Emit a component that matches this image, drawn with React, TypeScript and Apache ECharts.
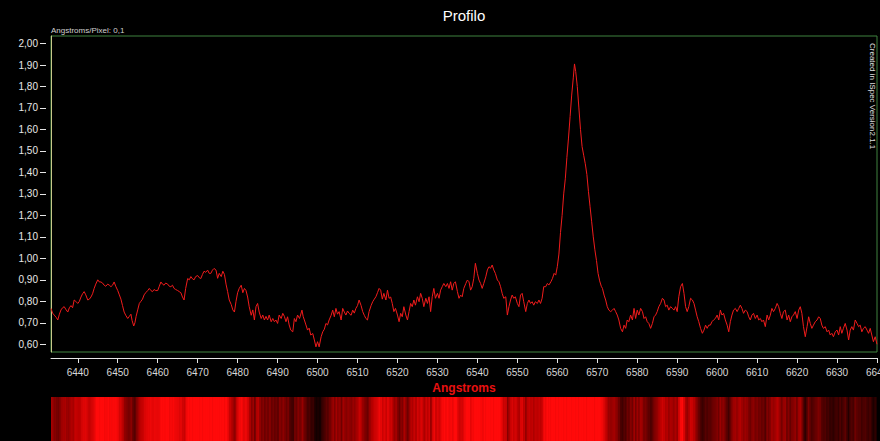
import React, { useEffect, useRef } from "react";
import * as echarts from "echarts";

// ---- Data ----
const X_MIN = 6433.3;
const X_MAX = 6640;
const Y_MIN = 0.564;
const Y_MAX = 2.035;
const X_TICKS = [6440, 6450, 6460, 6470, 6480, 6490, 6500, 6510, 6520, 6530, 6540, 6550, 6560, 6570, 6580, 6590, 6600, 6610, 6620, 6630, 6640];
const Y_TICKS = [0.6, 0.7, 0.8, 0.9, 1.0, 1.1, 1.2, 1.3, 1.4, 1.5, 1.6, 1.7, 1.8, 1.9, 2.0];

const SEG_A: [number, number][] = [
  [6433.3,0.767],[6433.7,0.745],[6434.1,0.736],[6434.6,0.725],[6435.0,0.713],[6435.4,0.74],[6435.8,0.76],[6436.2,0.77],[6436.6,0.775],[6437.1,0.76],[6437.5,0.75],[6437.9,0.77],[6438.3,0.78],[6438.7,0.77],[6439.1,0.806],[6439.5,0.80],[6440.0,0.79],[6440.4,0.80],[6440.8,0.82],[6441.2,0.835],[6441.6,0.845],[6442.0,0.83],[6442.5,0.806],[6442.9,0.81],[6443.3,0.82],[6443.7,0.835],[6444.1,0.86],[6444.5,0.88],[6445.0,0.90],[6445.4,0.89],[6445.8,0.89],[6446.2,0.885],[6446.6,0.875],[6447.0,0.87],[6447.5,0.88],[6447.9,0.875],[6448.3,0.868],[6448.7,0.875],[6449.1,0.89],[6449.5,0.87],[6450.0,0.85],[6450.4,0.83],[6450.8,0.81],[6451.2,0.78],[6451.6,0.75],[6452.0,0.735],[6452.5,0.72],[6452.9,0.73],[6453.3,0.74],[6453.6,0.71],[6454.0,0.685],[6454.3,0.70],[6454.6,0.73],[6455.0,0.76],[6455.4,0.79],[6455.8,0.80],[6456.2,0.81],[6456.6,0.83],[6457.0,0.84],[6457.5,0.85],[6457.9,0.86],[6458.3,0.85],[6458.7,0.845],[6459.1,0.855],[6459.5,0.85],[6460.0,0.85],[6460.4,0.87],[6460.8,0.89],[6461.2,0.88],[6461.6,0.875],[6462.0,0.885],[6462.5,0.88],[6462.9,0.87],[6463.3,0.868],[6463.7,0.875],[6464.1,0.86],[6464.5,0.855],[6465.0,0.85],[6465.4,0.845],[6465.8,0.84],[6466.2,0.82],[6466.6,0.806],[6467.0,0.86],[6467.5,0.906],[6467.9,0.90],[6468.3,0.915],[6468.7,0.905],[6469.1,0.90],[6469.5,0.915],[6470.0,0.92],[6470.4,0.91],[6470.8,0.906],[6471.2,0.925],[6471.6,0.94],[6472.0,0.935],[6472.5,0.945],[6472.9,0.93],[6473.3,0.93],[6473.7,0.945],[6474.1,0.953],
];

const SEG_B: [number, number][] = [
  [6474.6,0.945],[6475.0,0.907],[6475.4,0.93],[6475.9,0.915],[6476.3,0.94],[6476.7,0.925],[6477.1,0.88],[6477.5,0.845],[6477.9,0.806],[6478.4,0.785],[6478.8,0.76],[6479.2,0.75],[6479.6,0.80],[6480.0,0.84],[6480.4,0.86],[6480.9,0.875],[6481.3,0.84],[6481.7,0.86],[6482.1,0.85],[6482.5,0.82],[6482.9,0.775],[6483.4,0.735],[6483.8,0.76],[6484.2,0.713],[6484.6,0.775],[6485.0,0.79],[6485.4,0.75],[6485.9,0.72],[6486.3,0.736],[6486.7,0.713],[6487.1,0.73],[6487.5,0.713],[6487.9,0.736],[6488.4,0.705],[6488.8,0.72],[6489.2,0.705],[6489.6,0.713],[6490.0,0.697],[6490.4,0.736],[6490.9,0.72],[6491.3,0.744],[6491.7,0.73],[6492.1,0.705],[6492.5,0.728],[6492.9,0.69],[6493.3,0.666],[6493.8,0.658],[6494.2,0.72],[6494.6,0.705],[6495.0,0.736],[6495.5,0.72],[6496.1,0.759],[6496.4,0.73],[6496.7,0.713],[6497.1,0.69],[6497.5,0.666],[6497.9,0.675],[6498.3,0.643],[6498.8,0.65],[6499.2,0.62],[6499.6,0.588],[6500.0,0.612],[6500.4,0.588],[6500.9,0.635],[6501.3,0.658],[6501.7,0.67],[6502.1,0.697],[6502.5,0.69],[6502.9,0.713],[6503.4,0.735],[6503.8,0.759],[6504.2,0.728],[6504.6,0.767],[6505.0,0.74],[6505.4,0.752],[6505.9,0.713],[6506.3,0.767],[6506.7,0.75],[6507.1,0.736],[6507.5,0.755],[6507.9,0.744],[6508.4,0.735],[6508.8,0.759],[6509.2,0.745],[6509.6,0.767],[6510.0,0.78],[6510.4,0.806],[6510.9,0.78],[6511.3,0.752],[6511.7,0.735],[6512.1,0.72],[6512.5,0.713],[6512.9,0.752],[6513.4,0.78],[6513.8,0.798],[6514.2,0.81],[6514.6,0.821],[6515.0,0.84],[6515.4,0.86],
];

const SEG_C: [number, number][] = [
  [6515.8,0.852],[6516.2,0.81],[6516.6,0.837],[6517.1,0.806],[6517.5,0.852],[6517.9,0.814],[6518.3,0.82],[6518.7,0.79],[6519.1,0.752],[6519.5,0.767],[6520.0,0.736],[6520.4,0.705],[6520.8,0.744],[6521.2,0.728],[6521.6,0.775],[6522.1,0.736],[6522.5,0.713],[6522.9,0.752],[6523.3,0.79],[6523.7,0.775],[6524.1,0.806],[6524.5,0.782],[6525.0,0.821],[6525.4,0.798],[6525.8,0.837],[6526.2,0.814],[6526.6,0.775],[6527.1,0.814],[6527.5,0.79],[6527.9,0.821],[6528.3,0.752],[6528.7,0.821],[6529.1,0.86],[6529.5,0.814],[6530.0,0.837],[6530.4,0.814],[6530.8,0.852],[6531.2,0.868],[6531.6,0.883],[6532.1,0.868],[6532.5,0.883],[6532.9,0.86],[6533.3,0.891],[6533.7,0.852],[6534.1,0.883],[6534.5,0.891],[6535.0,0.845],[6535.4,0.814],[6535.8,0.829],[6536.2,0.821],[6536.6,0.86],[6537.1,0.883],[6537.5,0.899],[6537.9,0.891],[6538.3,0.852],[6538.7,0.868],[6539.1,0.907],[6539.5,0.977],[6540.0,0.93],[6540.4,0.899],[6540.8,0.883],[6541.2,0.86],[6541.6,0.883],[6542.1,0.914],[6542.5,0.946],[6542.9,0.961],[6543.3,0.954],[6543.7,0.969],[6544.1,0.946],[6544.5,0.93],[6545.0,0.899],[6545.4,0.891],[6545.8,0.868],[6546.2,0.837],[6546.6,0.814],[6547.1,0.821],[6547.5,0.736],[6547.9,0.775],[6548.3,0.806],[6548.7,0.829],[6549.1,0.814],[6549.5,0.821],[6550.0,0.79],[6550.4,0.775],[6550.8,0.829],[6551.2,0.837],[6551.6,0.798],[6552.1,0.752],[6552.5,0.79],[6552.9,0.806],[6553.3,0.79],[6553.7,0.798],[6554.1,0.782],[6554.5,0.798],[6555.0,0.79],[6555.4,0.806],[6555.8,0.79],[6556.2,0.814],[6556.6,0.868],
];

const SEG_D: [number, number][] = [
  [6557.1,0.868],[6557.5,0.883],[6557.9,0.876],[6558.4,0.891],[6558.8,0.907],[6559.2,0.93],[6559.6,0.922],[6560.0,0.961],[6560.4,1.02],[6560.8,1.12],[6561.2,1.20],[6561.6,1.30],[6562.0,1.37],[6562.4,1.47],[6562.8,1.56],[6563.2,1.66],[6563.6,1.76],[6564.0,1.84],[6564.3,1.905],[6564.6,1.87],[6565.0,1.80],[6565.4,1.70],[6565.8,1.60],[6566.2,1.52],[6566.6,1.48],[6567.0,1.44],[6567.4,1.39],[6567.8,1.31],[6568.2,1.24],[6568.6,1.17],[6569.0,1.10],[6569.4,1.04],[6569.8,0.99],[6570.2,0.93],[6570.6,0.895],[6571.0,0.87],[6571.3,0.86],[6571.7,0.829],[6572.1,0.806],[6572.5,0.775],[6572.9,0.759],[6573.35,0.752],[6573.8,0.759],[6574.2,0.767],[6574.6,0.752],[6575.0,0.736],[6575.4,0.713],[6575.85,0.674],[6576.3,0.658],[6576.7,0.689],[6577.1,0.674],[6577.5,0.713],[6577.9,0.705],[6578.35,0.736],[6578.8,0.713],[6579.2,0.767],[6579.6,0.72],[6580.0,0.759],[6580.4,0.736],[6580.85,0.767],[6581.3,0.752],[6581.7,0.72],[6582.1,0.728],[6582.5,0.705],[6582.9,0.697],[6583.35,0.674],[6583.8,0.697],[6584.2,0.728],[6584.6,0.736],[6585.0,0.752],[6585.4,0.775],[6585.85,0.79],[6586.3,0.814],[6586.7,0.806],[6587.1,0.775],[6587.5,0.782],[6587.9,0.759],[6588.35,0.775],[6588.8,0.767],[6589.2,0.759],[6589.6,0.775],[6590.0,0.752],[6590.4,0.821],[6590.85,0.868],[6591.3,0.883],[6591.7,0.837],[6592.1,0.775],[6592.5,0.752],[6592.9,0.775],[6593.35,0.814],[6593.8,0.806],[6594.2,0.79],[6594.6,0.759],[6595.0,0.728],[6595.4,0.705],[6595.85,0.674],[6596.3,0.651],[6596.7,0.666],[6597.1,0.689],[6597.5,0.674],[6597.9,0.689],
];

const SEG_E: [number, number][] = [
  [6598.3,0.689],[6598.7,0.705],[6599.1,0.713],[6599.55,0.72],[6600.0,0.736],[6600.4,0.713],[6600.8,0.759],[6601.2,0.736],[6601.6,0.744],[6602.05,0.713],[6602.5,0.689],[6602.9,0.658],[6603.3,0.705],[6603.7,0.736],[6604.1,0.759],[6604.55,0.767],[6605.0,0.752],[6605.4,0.767],[6605.8,0.782],[6606.2,0.767],[6606.6,0.744],[6607.05,0.759],[6607.5,0.752],[6607.9,0.728],[6608.3,0.713],[6608.7,0.736],[6609.1,0.744],[6609.55,0.72],[6610.0,0.736],[6610.4,0.713],[6610.8,0.72],[6611.2,0.705],[6611.6,0.713],[6612.05,0.682],[6612.5,0.736],[6612.9,0.713],[6613.3,0.736],[6613.7,0.767],[6614.1,0.752],[6614.55,0.767],[6615.0,0.79],[6615.4,0.775],[6615.8,0.744],[6616.2,0.72],[6616.6,0.752],[6617.05,0.759],[6617.5,0.713],[6617.9,0.736],[6618.3,0.705],[6618.7,0.728],[6619.1,0.736],[6619.55,0.752],[6620.0,0.72],[6620.4,0.759],[6620.8,0.775],[6621.2,0.744],[6621.6,0.682],[6622.05,0.635],[6622.5,0.682],[6622.9,0.728],[6623.3,0.697],[6623.7,0.674],[6624.1,0.689],[6624.55,0.705],[6625.0,0.713],[6625.4,0.728],[6625.8,0.72],[6626.2,0.689],[6626.6,0.674],[6627.05,0.682],[6627.5,0.658],[6627.9,0.666],[6628.3,0.643],[6628.7,0.651],[6629.1,0.635],[6629.55,0.658],[6630.0,0.666],[6630.4,0.643],[6630.8,0.682],[6631.2,0.651],[6631.6,0.674],[6632.05,0.697],[6632.5,0.666],[6632.9,0.62],[6633.3,0.666],[6633.7,0.682],[6634.1,0.666],[6634.55,0.713],[6635.0,0.697],[6635.4,0.682],[6635.8,0.689],[6636.2,0.658],[6636.6,0.674],[6637.05,0.682],[6637.5,0.666],[6637.9,0.651],[6638.3,0.674],[6638.7,0.643],[6639.1,0.612],[6639.55,0.635],[6640.0,0.60],
];

const PROFILE: [number, number][] = [...SEG_A, ...SEG_B, ...SEG_C, ...SEG_D, ...SEG_E];

const FONT = '"Liberation Sans", Arial, sans-serif';

export default function App() {
  const ref = useRef<HTMLDivElement>(null);

  useEffect(() => {
    document.body.style.margin = "0";
    document.body.style.background = "#000";
    const chart = echarts.init(ref.current!, null, { renderer: "svg" });

    const stripData = PROFILE.slice(0, -1).map((p, i) => [p[0], PROFILE[i + 1][0], p[1]]);

    const option: any = {
      animation: false,
      backgroundColor: "#000",
      textStyle: { fontFamily: FONT },
      grid: [
        { left: 51, right: 3, top: 36, bottom: 89, show: true, borderColor: "#3f823f", borderWidth: 1, backgroundColor: "#000", outerBoundsMode: "none", containLabel: false },
        { left: 51, right: 4, top: 397, bottom: 0, outerBoundsMode: "none", containLabel: false },
      ],
      xAxis: [
        {
          type: "value", gridIndex: 0, min: X_MIN, max: X_MAX, position: "bottom", offset: 6,
          axisLine: { show: true, onZero: false, lineStyle: { color: "#e6e6e6", width: 1 } },
          axisTick: { show: true, length: 5, lineStyle: { color: "#e6e6e6" }, customValues: X_TICKS },
          axisLabel: { color: "#d8d8d8", fontSize: 10, margin: 9, customValues: X_TICKS, formatter: (v: number) => String(v), hideOverlap: false },
          splitLine: { show: false },
          name: "Angstroms", nameLocation: "middle", nameGap: 24,
          nameTextStyle: { color: "#e81010", fontWeight: "bold", fontSize: 12, fontFamily: FONT },
        },
        { type: "value", gridIndex: 1, min: X_MIN, max: X_MAX, show: false },
      ],
      yAxis: [
        {
          type: "value", gridIndex: 0, min: Y_MIN, max: Y_MAX, position: "left", offset: 5,
          axisLine: { show: false },
          axisTick: { show: true, length: 6, lineStyle: { color: "#e6e6e6" }, customValues: Y_TICKS },
          axisLabel: { color: "#e8e8e8", fontSize: 10, margin: 8, customValues: Y_TICKS, formatter: (v: number) => v.toFixed(2).replace(".", ",") },
          splitLine: { show: false },
        },
        {
          type: "value", gridIndex: 0, min: Y_MIN, max: Y_MAX, position: "left", offset: 0,
          axisLine: { show: true, lineStyle: { color: "#c8c88a", width: 1 } },
          axisTick: { show: false }, axisLabel: { show: false }, splitLine: { show: false },
        },
        { type: "value", gridIndex: 1, min: 0, max: 1, show: false },
      ],
      visualMap: {
        type: "continuous", show: false, seriesIndex: 1, dimension: 2, min: 0.6, max: 0.88,
        inRange: { color: ["#120000", "#5a0000", "#b80000", "#ff0a0a"] },
      },
      series: [
        {
          type: "line", xAxisIndex: 0, yAxisIndex: 0, data: PROFILE, symbol: "none", showSymbol: false,
          lineStyle: { color: "#f01c1c", width: 1 }, silent: true,
        },
        {
          type: "custom", xAxisIndex: 1, yAxisIndex: 2, data: stripData, encode: { x: [0, 1], y: 2 }, silent: true,
          renderItem: (params: any, api: any) => {
            const x0 = api.coord([api.value(0), 0])[0];
            const x1 = api.coord([api.value(1), 0])[0];
            const cs = params.coordSys;
            return {
              type: "rect",
              shape: { x: x0, y: cs.y, width: x1 - x0 + 0.6, height: cs.height },
              style: { fill: api.visual("color") },
            };
          },
        },
      ],
      graphic: [
        { type: "text", x: 464, y: 15, style: { text: "Profilo", fill: "#ffffff", font: `15px ${FONT}`, align: "center", verticalAlign: "middle", textAlign: "center", textVerticalAlign: "middle" } },
        { type: "text", x: 51, y: 30, style: { text: "Angstroms/Pixel: 0,1", fill: "#d0d0d0", font: `8px ${FONT}`, verticalAlign: "middle", textVerticalAlign: "middle" } },
        { type: "text", x: 872, y: 43, rotation: -Math.PI / 2, style: { text: "Created in ISpec Version2.1.1", fill: "#e0e0e0", font: `8px ${FONT}`, align: "left", verticalAlign: "middle", textAlign: "left", textVerticalAlign: "middle" } },
      ],
    };

    chart.setOption(option);
    return () => chart.dispose();
  }, []);

  return <div ref={ref} style={{ width: 880, height: 441, background: "#000" }} />;
}
